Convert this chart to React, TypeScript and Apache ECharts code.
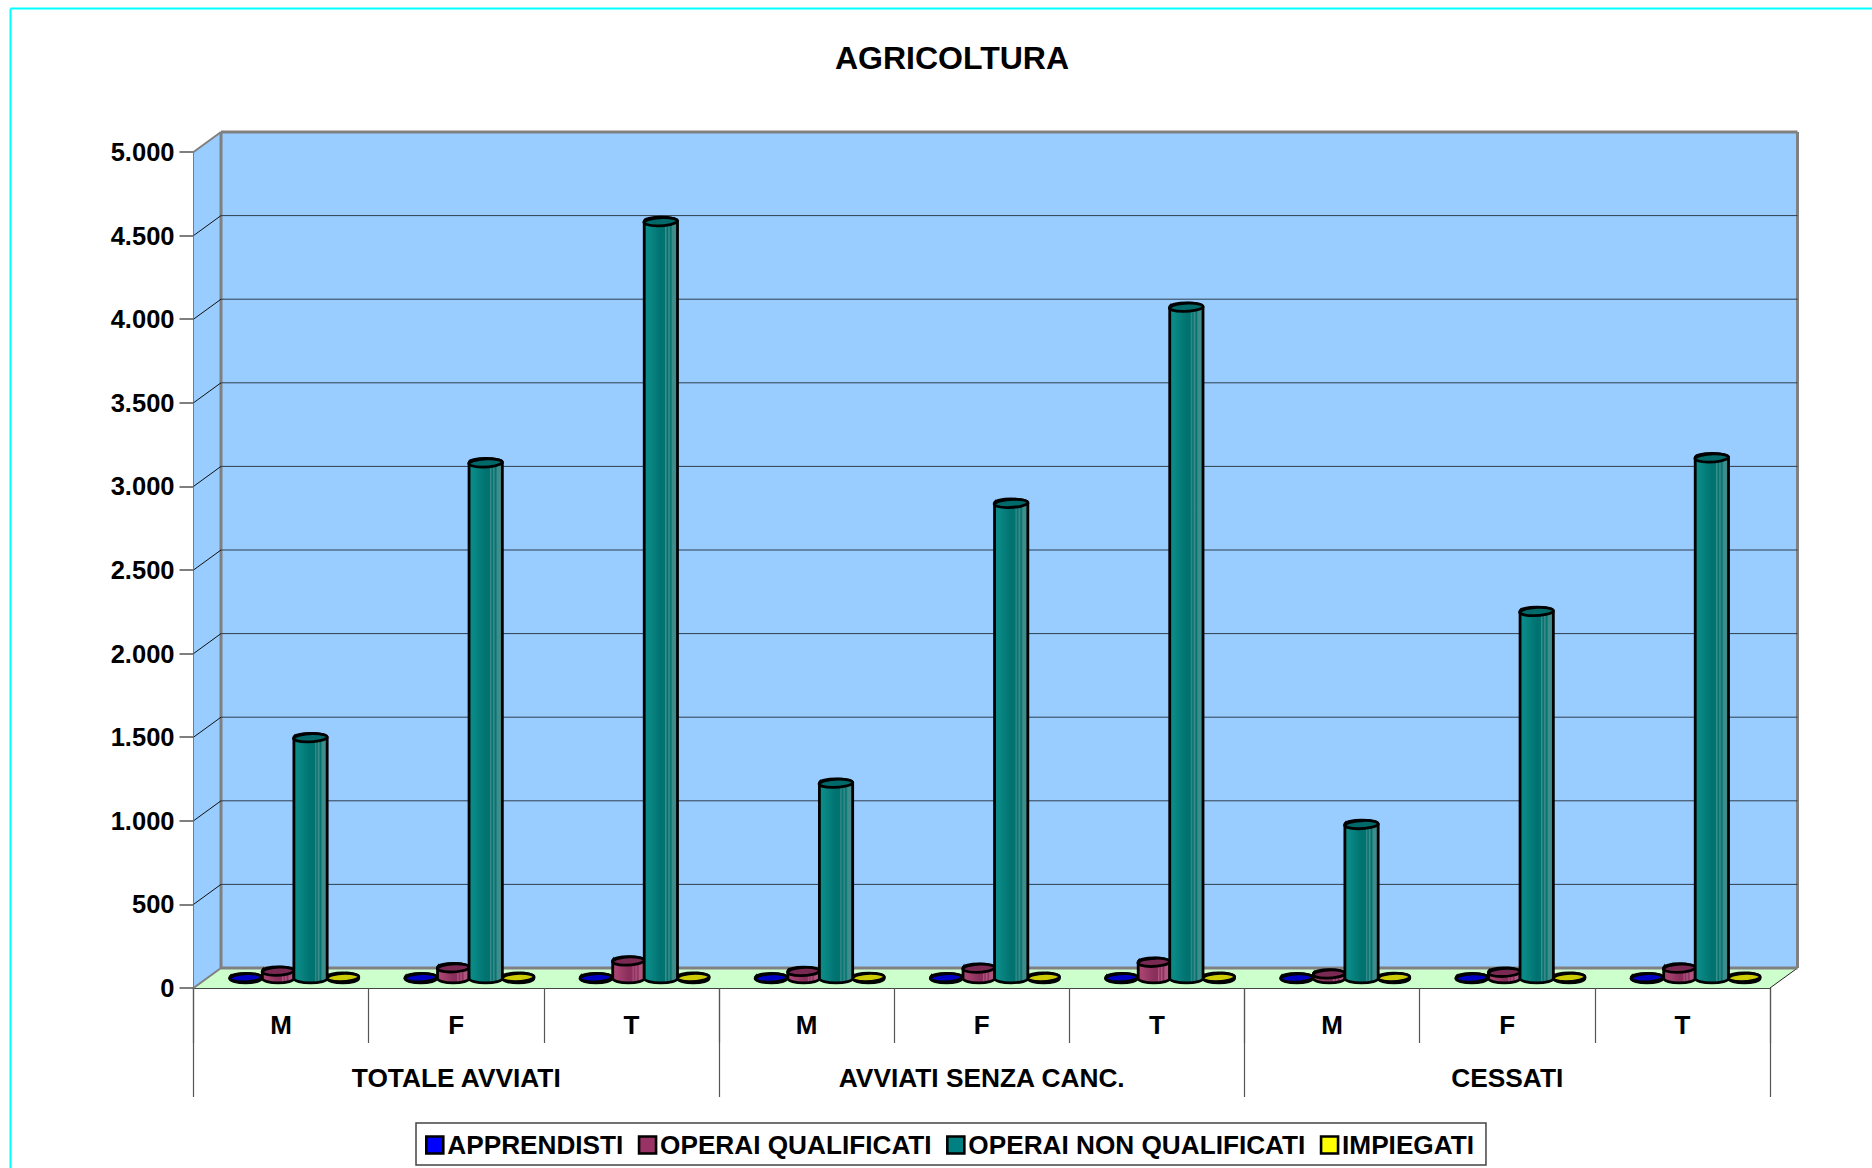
import React, { useEffect, useRef } from "react";
import * as echarts from "echarts";

const titleText = "AGRICOLTURA";
const levelOne = ["M", "F", "T", "M", "F", "T", "M", "F", "T"];
const levelTwo = ["TOTALE AVVIATI", "AVVIATI SENZA CANC.", "CESSATI"];
const yTicks = [0, 500, 1000, 1500, 2000, 2500, 3000, 3500, 4000, 4500, 5000];
const apprendisti = [3, 3, 3, 2, 3, 3, 2, 2, 3];
const operaiQualificati = [42, 62, 103, 40, 60, 95, 25, 35, 60];
const operaiNonQualificati = [1438, 3082, 4525, 1166, 2840, 4013, 919, 2193, 3112];
const impiegati = [5, 5, 5, 4, 5, 5, 4, 5, 5];
const seriesNames = ["APPRENDISTI", "OPERAI QUALIFICATI", "OPERAI NON QUALIFICATI", "IMPIEGATI"];

const FONT = "'Liberation Sans', Arial, sans-serif";
const DX = 27.5;
const DY = -20;

const palette = [
  { base: "#0000ff", top: "#0000c4", stops: ["#0000ff", "#0000d0", "#0000e0"] },
  { base: "#993366", top: "#7a2952", stops: ["#a8436f", "#8a2f5c", "#b0557f"] },
  { base: "#008080", top: "#006a6a", stops: ["#0a8a86", "#007270", "#3f8d8b"] },
  { base: "#ffff00", top: "#cccc00", stops: ["#ffff00", "#cccc00", "#dddd00"] },
];

function bodyFill(i: number) {
  const s = palette[i].stops;
  return new echarts.graphic.LinearGradient(0, 0, 1, 0, [
    { offset: 0, color: s[0] },
    { offset: 0.12, color: s[0] },
    { offset: 0.5, color: s[1] },
    { offset: 0.62, color: s[1] },
    { offset: 0.64, color: s[2] },
    { offset: 0.7, color: s[1] },
    { offset: 0.74, color: s[2] },
    { offset: 0.8, color: s[1] },
    { offset: 0.85, color: s[2] },
    { offset: 1, color: s[2] },
  ]);
}

function cylinderRender(i: number) {
  return (_params: any, api: any) => {
    const cat = api.value(0);
    const val = api.value(1);
    const band = api.size([1, 0])[0];
    const top = api.coord([cat, val]);
    const bot = api.coord([cat, 0]);
    const rx = band * (i === 2 ? 0.095 : 0.09);
    const ry = 4.2;
    const cx = top[0] + (i - 1.5) * band * 0.185 + DX / 2 - 0.5;
    const yT = top[1] + DY / 2;
    const yB = bot[1] + DY / 2 + 0.6;
    const tilt = 0.05;
    const body = `M${cx - rx} ${yT}L${cx - rx} ${yB}A${rx} ${ry} 0 0 0 ${cx + rx} ${yB}L${cx + rx} ${yT}A${rx} ${ry} 0 0 0 ${cx - rx} ${yT}Z`;
    const lip = `M${cx - rx} ${yT + rx * tilt}A${rx} ${ry} -3 0 1 ${cx + rx} ${yT - rx * tilt}A${rx} ${ry} -3 0 1 ${cx - rx} ${yT + rx * tilt}Z`;
    return {
      type: "group",
      children: [
        { type: "path", shape: { pathData: body }, style: { fill: bodyFill(i), stroke: "#000", lineWidth: 2.8 } },
        { type: "path", shape: { pathData: lip }, style: { fill: palette[i].top, stroke: "#000", lineWidth: 2.8 } },
      ],
    };
  };
}

function wallRender(params: any, api: any) {
  const v = api.value(1);
  const rect = params.coordSys;
  const xL = rect.x;
  const xR = rect.x + rect.width;
  const y = api.coord([0, v])[1];
  const yZero = rect.y + rect.height;
  const yTop = rect.y;
  const children: any[] = [];
  if (v === 0) {
    children.push(
      { type: "polygon", shape: { points: [[xL + DX, yTop + DY], [xR + DX, yTop + DY], [xR + DX, yZero + DY], [xL + DX, yZero + DY]] }, style: { fill: "#99ccff" } },
      { type: "polygon", shape: { points: [[xL, yTop], [xL + DX, yTop + DY], [xL + DX, yZero + DY], [xL, yZero]] }, style: { fill: "#99ccff" } },
      { type: "polygon", shape: { points: [[xL, yZero], [xL + DX, yZero + DY], [xR + DX, yZero + DY], [xR, yZero]] }, style: { fill: "#ccffcc" } },
      { type: "line", shape: { x1: xL, y1: yZero, x2: xL + DX, y2: yZero + DY }, style: { stroke: "#808080", lineWidth: 2 } },
      { type: "line", shape: { x1: xR, y1: yZero, x2: xR + DX, y2: yZero + DY }, style: { stroke: "#222", lineWidth: 1 } },
      { type: "line", shape: { x1: xL + DX, y1: yZero + DY, x2: xR + DX, y2: yZero + DY }, style: { stroke: "#808080", lineWidth: 3 } },
      { type: "line", shape: { x1: xL + DX, y1: yTop + DY, x2: xL + DX, y2: yZero + DY }, style: { stroke: "#808080", lineWidth: 3 } },
      { type: "line", shape: { x1: xR + DX, y1: yTop + DY, x2: xR + DX, y2: yZero + DY }, style: { stroke: "#808080", lineWidth: 3 } },
    );
  } else if (v === yTicks[yTicks.length - 1]) {
    children.push(
      { type: "line", shape: { x1: xL, y1: y, x2: xL + DX, y2: y + DY }, style: { stroke: "#808080", lineWidth: 2 } },
      { type: "line", shape: { x1: xL + DX, y1: y + DY, x2: xR + DX, y2: y + DY }, style: { stroke: "#808080", lineWidth: 3 } },
    );
  } else {
    children.push(
      { type: "line", shape: { x1: xL, y1: y, x2: xL + DX, y2: y + DY }, style: { stroke: "#111", lineWidth: 1 } },
      { type: "line", shape: { x1: xL + DX, y1: y + DY, x2: xR + DX, y2: y + DY }, style: { stroke: "#2f3f4f", lineWidth: 1 } },
    );
  }
  return { type: "group", children };
}

function formatThousands(v: number) {
  return v < 1000 ? String(v) : `${Math.floor(v / 1000)}.${String(v % 1000).padStart(3, "0")}`;
}

export default function App() {
  const ref = useRef<HTMLDivElement>(null);
  useEffect(() => {
    const chart = echarts.init(ref.current!, undefined, { renderer: "svg" });
    const values = [apprendisti, operaiQualificati, operaiNonQualificati, impiegati];
    const zOrder = [3, 4, 6, 5];
    chart.setOption({
      animation: false,
      backgroundColor: "#ffffff",
      title: {
        text: titleText,
        left: 952,
        top: 42,
        padding: 0,
        textAlign: "center",
        textStyle: { fontFamily: FONT, fontSize: 32, fontWeight: "bold", color: "#000" },
      },
      graphic: [
        { type: "line", shape: { x1: 10.5, y1: 8.5, x2: 1872, y2: 8.5 }, style: { stroke: "#00ffff", lineWidth: 2 } },
        { type: "line", shape: { x1: 10.5, y1: 8.5, x2: 10.5, y2: 1168 }, style: { stroke: "#00ffff", lineWidth: 2 } },
      ],
      legend: {
        left: 416,
        top: 1123,
        orient: "horizontal",
        width: 1200,
        padding: [9, 12, 7, 9],
        itemWidth: 17,
        itemHeight: 17,
        itemGap: 14.4,
        backgroundColor: "#fff",
        borderColor: "#444",
        borderWidth: 1.5,
        borderRadius: 0,
        selectedMode: false,
        textStyle: { fontFamily: FONT, fontSize: 26.2, fontWeight: "bold", color: "#000", padding: [0, 0, 0, -1] },
        data: seriesNames.map((name, i) => ({
          name,
          icon: "rect",
          itemStyle: { color: palette[i].base, borderColor: "#000", borderWidth: 2.6 },
        })),
      },
      grid: { left: 193.5, right: 102, top: 152, bottom: 180, containLabel: false },
      xAxis: [
        {
          type: "category",
          data: levelOne,
          position: "bottom",
          axisLine: { show: true, lineStyle: { color: "#444", width: 2 } },
          axisTick: { show: true, length: 55, lineStyle: { color: "#555", width: 1.2 } },
          axisLabel: { interval: 0, margin: 24, fontFamily: FONT, fontSize: 26, fontWeight: "bold", color: "#000" },
        },
        {
          type: "category",
          data: levelTwo,
          position: "bottom",
          axisLine: { show: false },
          axisTick: { show: true, length: 109, lineStyle: { color: "#555", width: 1.2 } },
          axisLabel: { interval: 0, margin: 77, fontFamily: FONT, fontSize: 26.3, fontWeight: "bold", color: "#000" },
        },
      ],
      yAxis: {
        type: "value",
        min: 0,
        max: 5000,
        interval: 500,
        splitLine: { show: false },
        axisLine: { show: true, lineStyle: { color: "#333", width: 2 } },
        axisTick: { show: true, length: 14, lineStyle: { color: "#555", width: 1.5 } },
        axisLabel: { margin: 19, fontFamily: FONT, fontSize: 25.5, fontWeight: "bold", color: "#000", formatter: formatThousands },
      },
      series: [
        {
          type: "custom",
          name: "walls",
          z: 1,
          silent: true,
          encode: { x: 0, y: 1 },
          data: yTicks.map((v) => [0, v]),
          renderItem: wallRender,
        },
        ...seriesNames.map((name, i) => ({
          type: "custom",
          name,
          z: zOrder[i],
          silent: true,
          encode: { x: 0, y: 1 },
          itemStyle: { color: palette[i].base },
          data: values[i].map((v, c) => [c, v]),
          renderItem: cylinderRender(i),
        })),
      ],
    });
    return () => chart.dispose();
  }, []);
  return <div ref={ref} style={{ position: "absolute", left: 0, top: 0, width: 1872, height: 1168 }} />;
}
